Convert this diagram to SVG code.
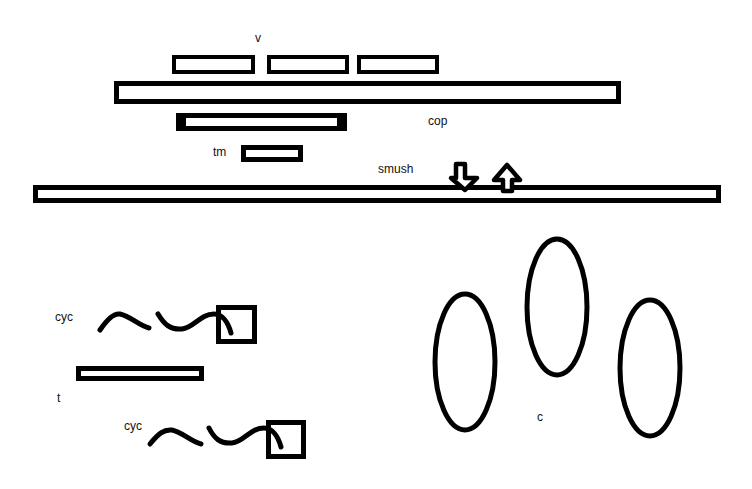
<svg xmlns="http://www.w3.org/2000/svg" width="752" height="489" viewBox="0 0 752 489">
<style>
.box{fill:#fff;stroke:#000;stroke-width:5}
.sq{fill:none;stroke:#000;stroke-width:5}
.thin{fill:#fff;stroke:#000;stroke-width:4}
.arr{fill:#fff;stroke:#000;stroke-width:4.5;stroke-linejoin:round}
.wave{fill:none;stroke:#000;stroke-width:5;stroke-linecap:round;stroke-linejoin:round}
.lbl{font-family:"Liberation Sans",Arial,sans-serif;font-size:12px;fill:#111}
</style>
<rect width="752" height="489" fill="#fff"/>
<g id="label-v"><text class="lbl" x="255" y="42">v</text></g>
<g id="v1"><rect class="thin" x="174" y="57" width="79" height="15"/></g>
<g id="v2"><rect class="thin" x="269" y="57" width="78" height="15"/></g>
<g id="v3"><rect class="thin" x="359" y="57" width="78" height="15"/></g>
<g id="bigbar"><rect class="box" x="116.5" y="83.5" width="502" height="18"/></g>
<g id="copbar"><rect x="176" y="113" width="171" height="18" fill="#000"/><rect x="186" y="118" width="151" height="8" fill="#fff"/></g>
<g id="label-cop"><text class="lbl" x="428" y="125">cop</text></g>
<g id="label-tm"><text class="lbl" x="213" y="156">tm</text></g>
<g id="tm"><rect class="box" x="243.5" y="147.5" width="57" height="12"/></g>
<g id="label-smush"><text class="lbl" x="378" y="173">smush</text></g>
<g id="longbar"><rect class="box" x="35.5" y="187.5" width="683" height="13"/></g>
<g id="connectors">
<polygon class="arr" points="456,164 465,164 465,178 477,178 465,190 451,178 456,178"/>
<polygon class="arr" points="507,165 520,180 512,180 512,191 503,191 503,180 494,180"/>
</g>
<g id="cyc1">
<text class="lbl" x="55" y="321">cyc</text>
<rect class="sq" x="218.5" y="307.5" width="36" height="34"/>
<path class="wave" d="M100,330 C108,318 114,313 120,314 C130,316 140,326 149,328"/>
<path class="wave" d="M158,314 C164,324 170,330 182,329 C194,328 200,314 214,314 C222,314 228,322 231,333"/>
</g>
<g id="tbar"><rect class="box" x="78.5" y="368.5" width="123" height="10"/></g>
<g id="label-t"><text class="lbl" x="57" y="402">t</text></g>
<g id="cyc2">
<text class="lbl" x="124" y="430">cyc</text>
<rect class="sq" x="268.5" y="422.5" width="35" height="34"/>
<path class="wave" d="M150,444 C158,434 164,429 172,430 C182,432 192,442 201,444"/>
<path class="wave" d="M209,428 C214,438 220,444 232,443 C244,442 250,428 264,428 C272,428 278,436 281,447"/>
</g>
<g id="c1"><ellipse class="wave" cx="465" cy="362" rx="30" ry="68"/></g>
<g id="c2"><ellipse class="wave" cx="557" cy="307" rx="30" ry="68"/></g>
<g id="c3"><ellipse class="wave" cx="650" cy="368" rx="30" ry="68"/></g>
<g id="label-c"><text class="lbl" x="537" y="421">c</text></g>
</svg>
